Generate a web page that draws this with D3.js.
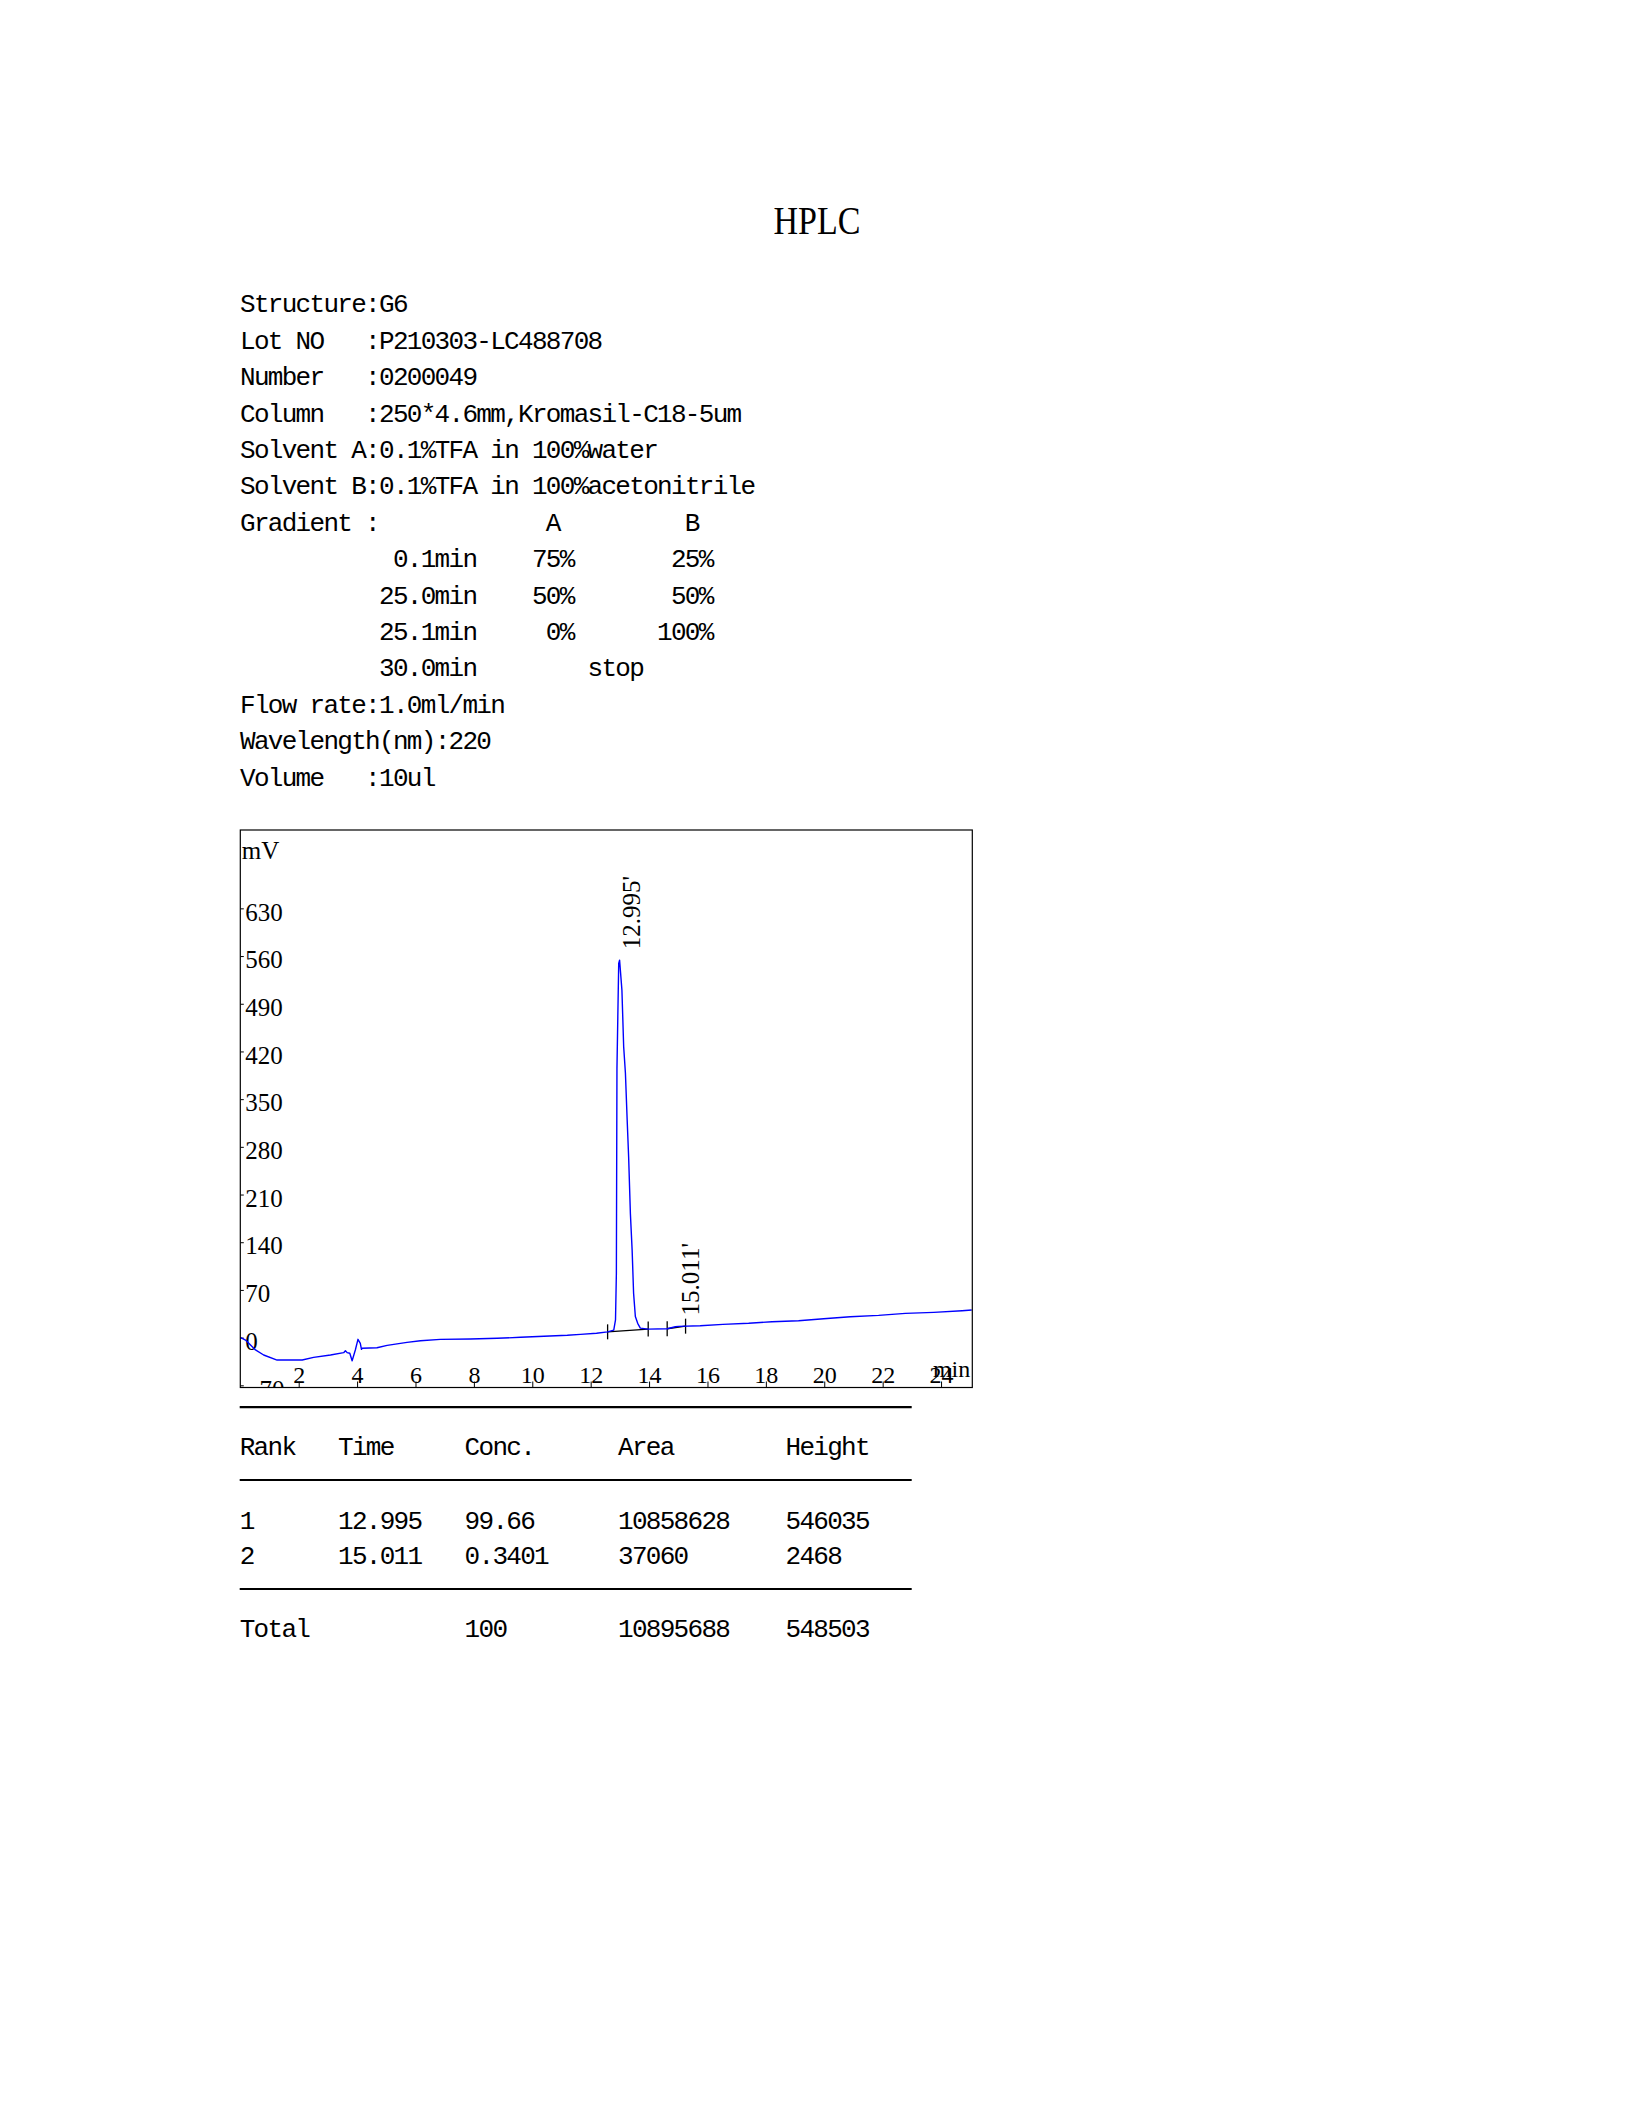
<!DOCTYPE html>
<html>
<head>
<meta charset="utf-8">
<script src="https://cdn.jsdelivr.net/npm/d3@7"></script>
<style>
    body { margin: 0; background: #fff; }
    text { white-space: pre; }
</style>
</head>
<body>
<script>

// chromatogram trace (min, mV)
var traceTime = [0.00, 0.18, 0.52, 0.80, 1.26, 2.12, 2.51, 3.09, 3.54, 3.60, 3.66, 3.75, 3.83, 3.94,
    4.03, 4.11, 4.15, 4.17, 4.68, 5.03, 5.71, 6.17, 6.85, 7.88, 8.80, 9.60, 10.40, 11.20, 11.65,
    12.20, 12.58, 12.79, 12.85, 12.88, 12.90, 12.96, 12.99, 13.07, 13.13, 13.19, 13.25, 13.30,
    13.36, 13.42, 13.47, 13.53, 13.61, 13.70, 13.97, 14.62, 14.90, 15.01, 15.75, 16.53, 17.41,
    18.21, 19.12, 19.98, 20.89, 21.86, 22.78, 23.75, 24.72, 25.05];
var traceMv = [0.5, -3.5, -18, -25.5, -32.9, -32.9, -29, -25.5, -22.1, -19.2, -22, -23, -33.9, -18.2,
    -2.5, -8.4, -17.2, -15.7, -14.8, -11.3, -6.9, -4.5, -2.5, -2.1, -1.0, 0.5, 2.0, 3.5, 4.8,
    6.5, 8.5, 11, 26, 94, 395, 549, 554, 510, 427, 388, 319, 265,
    182, 128, 65, 31, 21, 14, 12.5, 13, 16, 16.5, 17.5, 19.5, 21,
    23.4, 24.8, 27.8, 30.7, 32.7, 35.6, 37.1, 39.5, 40.5];

// peaks
var peakTime = [12.995, 15.011];
var peakTop = [554, 16.5];
var peakLabel = ["12.995'", "15.011'"];

// integration baselines (start, end in min)
var baseStart = [12.58, 14.62];
var baseEnd = [13.97, 15.25];

var yTicks = [-70, 0, 70, 140, 210, 280, 350, 420, 490, 560, 630];
var xTicks = [2, 4, 6, 8, 10, 12, 14, 16, 18, 20, 22, 24];

// header block, [column, text]
var infoLines = [
    [[0, 'Structure:G6']],
    [[0, 'Lot NO'], [9, ':P210303-LC488708']],
    [[0, 'Number'], [9, ':0200049']],
    [[0, 'Column'], [9, ':250*4.6mm,Kromasil-C18-5um']],
    [[0, 'Solvent A:0.1%TFA in 100%water']],
    [[0, 'Solvent B:0.1%TFA in 100%acetonitrile']],
    [[0, 'Gradient :'], [22, 'A'], [32, 'B']],
    [[11, '0.1min'], [21, '75%'], [31, '25%']],
    [[10, '25.0min'], [21, '50%'], [31, '50%']],
    [[10, '25.1min'], [22, '0%'], [30, '100%']],
    [[10, '30.0min'], [25, 'stop']],
    [[0, 'Flow rate:1.0ml/min']],
    [[0, 'Wavelength(nm):220']],
    [[0, 'Volume'], [9, ':10ul']]
];

// result table
var tableHead = ['Rank', 'Time', 'Conc.', 'Area', 'Height'];
var tableRows = [
    ['1', '12.995', '99.66', '10858628', '546035'],
    ['2', '15.011', '0.3401', '37060', '2468']
];
var tableTotal = ['Total', '', '100', '10895688', '548503'];

var serif = "'Liberation Serif', 'Times New Roman', serif";
var mono = "'Liberation Mono', 'DejaVu Sans Mono', monospace";

var W = 1632, H = 2112;
var box = { left: 240.3, right: 972.3, top: 830, bottom: 1387.5 };

var svg = d3.select('body').append('svg')
    .attr('width', W)
    .attr('height', H)
    .attr('viewBox', '0 0 ' + W + ' ' + H);

svg.append('rect').attr('width', W).attr('height', H).attr('fill', '#fff');

//title
svg.append('text')
    .attr('x', 817)
    .attr('y', 233.5)
    .attr('text-anchor', 'middle')
    .attr('textLength', 87)
    .attr('lengthAdjust', 'spacingAndGlyphs')
    .style('font-family', serif)
    .style('font-size', '40px')
    .text('HPLC');

//info lines, monospace grid
var cw = 13.9;
var info = svg.append('g')
    .style('font-family', mono)
    .style('font-size', '26px')
    .style('letter-spacing', '-1.7px')
    .attr('fill', '#000');
infoLines.forEach(function (segs, i) {
    segs.forEach(function (s) {
        info.append('text')
            .attr('x', 240 + s[0] * cw)
            .attr('y', 312.3 + i * 36.4)
            .text(s[1]);
    });
});

// chart
var x = d3.scaleLinear().domain([0, 25.07]).range([box.left, box.right]);
var y = d3.scaleLinear().domain([-73.2, 745]).range([box.bottom, box.top]);

svg.append('defs').append('clipPath')
    .attr('id', 'plot-clip')
    .append('rect')
        .attr('x', box.left)
        .attr('y', box.top)
        .attr('width', box.right - box.left)
        .attr('height', box.bottom - box.top);

//y axis, labels inside the frame (clip on an untransformed parent)
var yAxis = d3.axisRight(y)
    .tickValues(yTicks)
    .tickSize(3.5)
    .tickPadding(1.5)
    .tickFormat(d3.format('d'));
var gy = svg.append('g')
    .attr('clip-path', 'url(#plot-clip)')
    .append('g')
    .attr('transform', 'translate(' + box.left + ',0)')
    .call(yAxis);
gy.select('.domain').remove();
gy.selectAll('line').attr('stroke', '#000').attr('stroke-width', 1);
gy.selectAll('text')
    .attr('dy', '11.7px')
    .attr('fill', '#000')
    .style('font-family', serif)
    .style('font-size', '25px');

//x axis, ticks point up from the frame bottom
var xAxis = d3.axisBottom(x)
    .tickValues(xTicks)
    .tickSizeInner(-6)
    .tickSizeOuter(0)
    .tickFormat(d3.format('d'));
var gx = svg.append('g')
    .attr('transform', 'translate(0,' + box.bottom + ')')
    .call(xAxis);
gx.select('.domain').remove();
gx.selectAll('line').attr('stroke', '#000').attr('stroke-width', 1);
gx.selectAll('text')
    .attr('y', -4.5)
    .attr('dy', 0)
    .attr('fill', '#000')
    .style('font-family', serif)
    .style('font-size', '24px');

svg.append('text')
    .attr('x', box.right - 2)
    .attr('y', 1377)
    .attr('text-anchor', 'end')
    .style('font-family', serif)
    .style('font-size', '24px')
    .text('min');
svg.append('text')
    .attr('x', box.left + 1.5)
    .attr('y', 858.5)
    .style('font-family', serif)
    .style('font-size', '25px')
    .text('mV');

//trace
var trace = traceTime.map(function (t, i) { return [t, traceMv[i]]; });
var line = d3.line()
    .x(function (d) { return x(d[0]); })
    .y(function (d) { return y(d[1]); });

function mvAt(t) {
    return d3.scaleLinear().domain(traceTime).range(traceMv)(t);
}

//integration baselines and markers
var gb = svg.append('g').attr('stroke', '#000').attr('stroke-width', 1.3);
baseStart.forEach(function (t0, i) {
    var t1 = baseEnd[i];
    gb.append('line')
        .attr('x1', x(t0)).attr('y1', y(mvAt(t0)))
        .attr('x2', x(t1)).attr('y2', y(mvAt(t1)));
    [t0, t1].forEach(function (t) {
        gb.append('line')
            .attr('x1', x(t)).attr('x2', x(t))
            .attr('y1', y(mvAt(t)) - 7.5)
            .attr('y2', y(mvAt(t)) + 7.5);
    });
});

svg.append('path')
    .datum(trace)
    .attr('clip-path', 'url(#plot-clip)')
    .attr('d', line)
    .attr('fill', 'none')
    .attr('stroke', '#0000ff')
    .attr('stroke-width', 1.4)
    .attr('stroke-linejoin', 'round');

//peak time labels, rotated
peakTime.forEach(function (t, i) {
    svg.append('text')
        .attr('transform', 'translate(' + (x(t) + 20) + ',' + (y(peakTop[i]) - 11) + ') rotate(-90)')
        .style('font-family', serif)
        .style('font-size', '25px')
        .text(peakLabel[i]);
});

//frame
svg.append('rect')
    .attr('x', box.left)
    .attr('y', box.top)
    .attr('width', box.right - box.left)
    .attr('height', box.bottom - box.top)
    .attr('fill', 'none')
    .attr('stroke', '#000')
    .attr('stroke-width', 1.2);

// table
var colX = [239.7, 338, 464.6, 618, 785.5];
var tbl = svg.append('g')
    .style('font-family', mono)
    .style('font-size', '26px')
    .style('letter-spacing', '-1.7px');
[1407.2, 1480, 1589].forEach(function (ly) {
    tbl.append('line')
        .attr('x1', 239.7).attr('x2', 911.7)
        .attr('y1', ly).attr('y2', ly)
        .attr('stroke', '#000')
        .attr('stroke-width', 2.2);
});
function tableRow(cells, by) {
    cells.forEach(function (c, j) {
        tbl.append('text')
            .attr('x', colX[j])
            .attr('y', by)
            .text(c);
    });
}
tableRow(tableHead, 1454.5);
tableRow(tableRows[0], 1528.5);
tableRow(tableRows[1], 1564);
tableRow(tableTotal, 1637);

</script>
</body>
</html>
